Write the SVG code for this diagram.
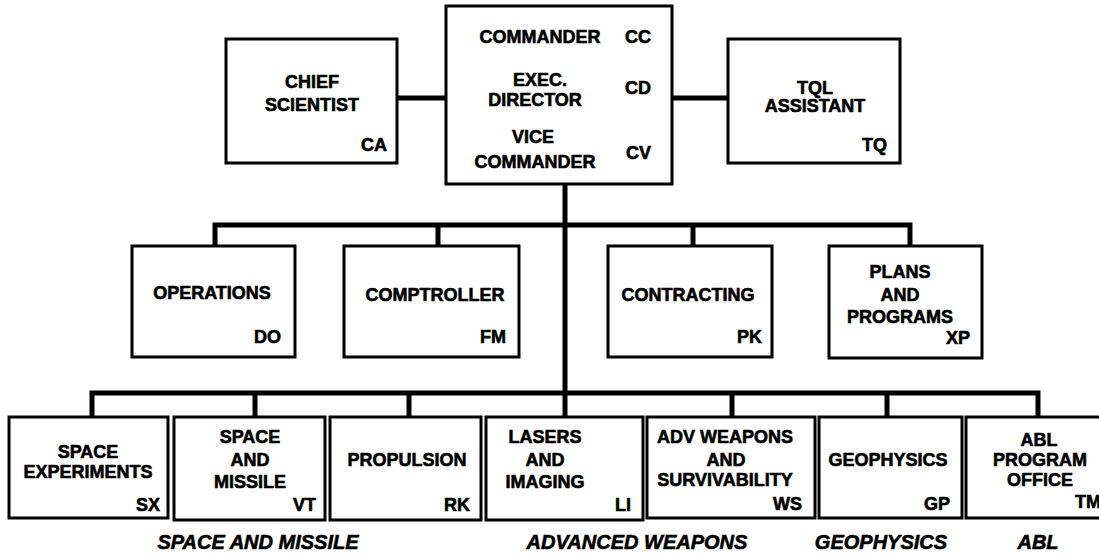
<svg xmlns="http://www.w3.org/2000/svg" width="1099" height="557" viewBox="0 0 1099 557">
<style>
.box{fill:#fff;stroke:#000;stroke-width:3}
.ln{fill:none;stroke:#000;stroke-width:5;stroke-linejoin:miter}
text{font-family:"Liberation Sans",Arial,sans-serif;font-weight:bold;font-size:18px;fill:#000;stroke:#000;stroke-width:0.6}
.c{text-anchor:middle}
.e{text-anchor:end}
.grp{font-style:italic;font-size:20px;text-anchor:middle}
</style>
<rect width="1099" height="557" fill="#fff"/>
<g id="connectors">
<path class="ln" d="M397,98 H446"/>
<path class="ln" d="M672,98 H728"/>
<path class="ln" d="M565,184 V417"/>
<path class="ln" d="M215,246 V225 H910 V246"/>
<path class="ln" d="M438,225 V246"/>
<path class="ln" d="M693,225 V246"/>
<path class="ln" d="M92,417 V393 H1038 V417"/>
<path class="ln" d="M255,393 V417"/>
<path class="ln" d="M409,393 V417"/>
<path class="ln" d="M732,393 V417"/>
<path class="ln" d="M887,393 V417"/>
</g>
<g id="commander">
<rect class="box" x="446" y="6" width="226" height="178"/>
<text class="c" x="540" y="43">COMMANDER</text>
<text class="e" x="651" y="43">CC</text>
<text class="c" x="540" y="86">EXEC.</text>
<text class="c" x="535" y="106">DIRECTOR</text>
<text class="e" x="651" y="94">CD</text>
<text class="c" x="533" y="143">VICE</text>
<text class="c" x="535" y="168">COMMANDER</text>
<text class="e" x="651" y="159">CV</text>
</g>
<g id="chief-scientist">
<rect class="box" x="226" y="39" width="171" height="124"/>
<text class="c" x="312" y="88">CHIEF</text>
<text class="c" x="312" y="111">SCIENTIST</text>
<text class="e" x="387" y="151">CA</text>
</g>
<g id="tql-assistant">
<rect class="box" x="728" y="39" width="172" height="124"/>
<text class="c" x="815" y="94">TQL</text>
<text class="c" x="815" y="112">ASSISTANT</text>
<text class="e" x="887" y="151">TQ</text>
</g>
<g id="operations">
<rect class="box" x="132" y="246" width="163" height="111"/>
<text class="c" x="212" y="299">OPERATIONS</text>
<text class="e" x="281" y="343">DO</text>
</g>
<g id="comptroller">
<rect class="box" x="344" y="246" width="175" height="111"/>
<text class="c" x="435" y="301">COMPTROLLER</text>
<text class="e" x="506" y="343">FM</text>
</g>
<g id="contracting">
<rect class="box" x="608" y="246" width="164" height="111"/>
<text class="c" x="688" y="301">CONTRACTING</text>
<text class="e" x="762" y="343">PK</text>
</g>
<g id="plans-programs">
<rect class="box" x="829" y="246" width="153" height="112"/>
<text class="c" x="900" y="278">PLANS</text>
<text class="c" x="900" y="301">AND</text>
<text class="c" x="900" y="323">PROGRAMS</text>
<text class="e" x="970" y="344">XP</text>
</g>
<g id="space-experiments">
<rect class="box" x="9" y="417" width="159" height="101"/>
<text class="c" x="88" y="458">SPACE</text>
<text class="c" x="88" y="478">EXPERIMENTS</text>
<text class="e" x="160" y="511">SX</text>
</g>
<g id="space-missile">
<rect class="box" x="174" y="417" width="151" height="103"/>
<text class="c" x="250" y="443">SPACE</text>
<text class="c" x="250" y="466">AND</text>
<text class="c" x="250" y="488">MISSILE</text>
<text class="e" x="316" y="511">VT</text>
</g>
<g id="propulsion">
<rect class="box" x="330" y="417" width="151" height="103"/>
<text class="c" x="407" y="466">PROPULSION</text>
<text class="e" x="470" y="511">RK</text>
</g>
<g id="lasers-imaging">
<rect class="box" x="486" y="417" width="157" height="103"/>
<text class="c" x="545" y="443">LASERS</text>
<text class="c" x="545" y="466">AND</text>
<text class="c" x="545" y="488">IMAGING</text>
<text class="e" x="631" y="511">LI</text>
</g>
<g id="adv-weapons">
<rect class="box" x="647" y="417" width="168" height="101"/>
<text class="c" x="725" y="443">ADV WEAPONS</text>
<text class="c" x="726" y="466">AND</text>
<text class="c" x="725" y="486">SURVIVABILITY</text>
<text class="e" x="802" y="510">WS</text>
</g>
<g id="geophysics">
<rect class="box" x="819" y="417" width="143" height="101"/>
<text class="c" x="888" y="466">GEOPHYSICS</text>
<text class="e" x="950" y="510">GP</text>
</g>
<g id="abl-program-office">
<rect class="box" x="966" y="417" width="140" height="101"/>
<text class="c" x="1039" y="446">ABL</text>
<text class="c" x="1040" y="466">PROGRAM</text>
<text class="c" x="1040" y="486">OFFICE</text>
<text class="e" x="1101" y="508">TM</text>
</g>
<g id="group-labels">
<text class="grp" x="258" y="549">SPACE AND MISSILE</text>
<text class="grp" x="637" y="549">ADVANCED WEAPONS</text>
<text class="grp" x="881" y="549">GEOPHYSICS</text>
<text class="grp" x="1038" y="549">ABL</text>
</g>
</svg>
